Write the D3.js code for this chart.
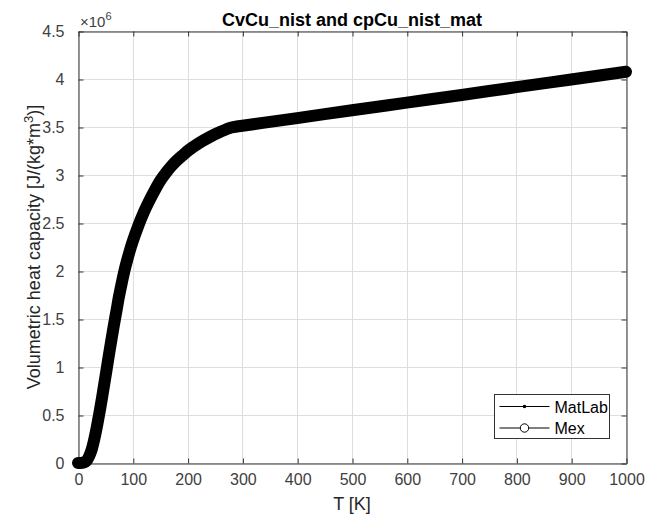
<!DOCTYPE html>
<html>
<head>
<meta charset="utf-8">
<script src="https://cdn.jsdelivr.net/npm/d3@7"></script>
<style>
    body { margin: 0; background: #fff; }
    svg { display: block; font-family: "Liberation Sans", Arial, Helvetica, sans-serif; }
</style>
</head>
<body>
<svg width="646" height="520"></svg>
<script>
// temperature points [K] and volumetric heat capacity [J/(kg*m^3)]
let temperature = [0, 5, 10, 15, 20, 25, 30, 35, 40, 45, 50, 55, 60, 65, 70, 75, 80, 85, 90, 95, 100,
    110, 120, 130, 140, 150, 160, 170, 180, 190, 200, 220, 240, 260, 280, 290, 300,
    400, 500, 600, 700, 800, 900, 1000];
let cvMatLab = [0, 500, 5000, 20000, 65000, 140000, 255000, 395000, 550000, 720000, 895000,
    1075000, 1250000, 1420000, 1580000, 1740000, 1880000, 2010000, 2120000, 2220000, 2310000,
    2470000, 2610000, 2730000, 2840000, 2940000, 3020000, 3090000, 3150000, 3200000, 3250000,
    3330000, 3395000, 3450000, 3495000, 3505000, 3513000,
    3593000, 3674000, 3754000, 3834000, 3915000, 3995000, 4075000];
// Mex result lies right on top of the MatLab one
let cvMex = [0, 500, 5000, 20000, 65000, 140000, 255000, 395000, 550000, 720000, 895000,
    1075000, 1250000, 1420000, 1580000, 1740000, 1880000, 2010000, 2120000, 2220000, 2310000,
    2470000, 2610000, 2730000, 2840000, 2940000, 3020000, 3090000, 3150000, 3200000, 3250000,
    3330000, 3395000, 3450000, 3495000, 3505000, 3513000,
    3593000, 3674000, 3754000, 3834000, 3915000, 3995000, 4075000];

let xTicks = [0, 100, 200, 300, 400, 500, 600, 700, 800, 900, 1000];
let yTicks = [0, 0.5e6, 1e6, 1.5e6, 2e6, 2.5e6, 3e6, 3.5e6, 4e6, 4.5e6];
let seriesNames = ["MatLab", "Mex"];

let svg = d3.select("svg");

let margin = {left: 78, right: 20, top: 31, bottom: 57};
let width = +svg.attr("width"),
    height = +svg.attr("height");

let x = d3.scaleLinear()
    .domain([0, 1000])
    .range([margin.left, width - margin.right]);

let y = d3.scaleLinear()
    .domain([0, 4.5e6])
    .range([height - margin.bottom, margin.top]);

let axisColor = "#333";
let labelColor = "#404040";

//grid lines
let grid = svg.append("g").attr("class", "grid");
grid.selectAll("line.gx")
    .data(xTicks).enter().append("line")
        .attr("class", "gx")
        .attr("x1", d => Math.round(x(d)) + 0.5)
        .attr("x2", d => Math.round(x(d)) + 0.5)
        .attr("y1", y(4.5e6))
        .attr("y2", y(0))
        .attr("stroke", "#dedede");
grid.selectAll("line.gy")
    .data(yTicks).enter().append("line")
        .attr("class", "gy")
        .attr("x1", x(0))
        .attr("x2", x(1000))
        .attr("y1", d => Math.round(y(d)) + 0.5)
        .attr("y2", d => Math.round(y(d)) + 0.5)
        .attr("stroke", "#dedede");

//axes with ticks pointing in, on all four sides
let fmtY = d => d3.format("~g")(d / 1e6);

let xBottom = svg.append("g")
    .attr("transform", `translate(0.5,${Math.round(y(0)) + 0.5})`)
    .call(d3.axisBottom(x).tickValues(xTicks).tickFormat(d3.format("d"))
        .tickSizeInner(-5).tickSizeOuter(0).tickPadding(10));
let xTop = svg.append("g")
    .attr("transform", `translate(0.5,${Math.round(y(4.5e6)) + 0.5})`)
    .call(d3.axisTop(x).tickValues(xTicks).tickSizeInner(-5).tickSizeOuter(0).tickFormat(""));
let yLeft = svg.append("g")
    .attr("transform", `translate(${Math.round(x(0)) + 0.5},0.5)`)
    .call(d3.axisLeft(y).tickValues(yTicks).tickFormat(fmtY).tickSizeInner(-5).tickSizeOuter(0).tickPadding(14));
let yRight = svg.append("g")
    .attr("transform", `translate(${Math.round(x(1000)) + 0.5},0.5)`)
    .call(d3.axisRight(y).tickValues(yTicks).tickSizeInner(-5).tickSizeOuter(0).tickFormat(""));

[xBottom, xTop, yLeft, yRight].forEach(g => {
    g.select(".domain").attr("stroke", axisColor);
    g.selectAll(".tick line").attr("stroke", axisColor);
    g.selectAll(".tick text")
        .attr("fill", labelColor)
        .style("font-size", "16px")
        .style("font-family", "'Liberation Sans', Arial, sans-serif");
});

//exponent above the y axis
let expo = svg.append("text")
    .attr("x", x(0) + 2)
    .attr("y", 27)
    .attr("fill", labelColor)
    .style("font-size", "15px");
expo.append("tspan").text("\u00d710");
expo.append("tspan").attr("dy", -7).style("font-size", "11px").text("6");

//title and axis labels
svg.append("text")
    .attr("x", (x(0) + x(1000)) / 2)
    .attr("y", 26)
    .attr("text-anchor", "middle")
    .attr("fill", "#000")
    .style("font-size", "18px")
    .style("font-weight", "bold")
    .text("CvCu_nist and cpCu_nist_mat");

svg.append("text")
    .attr("x", (x(0) + x(1000)) / 2)
    .attr("y", 510)
    .attr("text-anchor", "middle")
    .attr("fill", "#262626")
    .style("font-size", "18px")
    .text("T [K]");

let yLabel = svg.append("text")
    .attr("transform", `translate(40,${(y(0) + y(4.5e6)) / 2}) rotate(-90)`)
    .attr("text-anchor", "middle")
    .attr("fill", "#262626")
    .style("font-size", "18px");
yLabel.append("tspan").text("Volumetric heat capacity [J/(kg*m");
yLabel.append("tspan").attr("dy", -7).style("font-size", "13px").text("3");
yLabel.append("tspan").attr("dy", 7).text(")]");

//the two series
let rows = temperature.map((t, i) => ({t: t, matlab: cvMatLab[i], mex: cvMex[i]}));

let lineMatLab = d3.line()
    .x(d => x(d.t))
    .y(d => y(d.matlab))
    .curve(d3.curveMonotoneX);
let lineMex = d3.line()
    .x(d => x(d.t))
    .y(d => y(d.mex))
    .curve(d3.curveMonotoneX);

svg.append("path")
    .datum(rows)
    .attr("d", lineMatLab)
    .attr("fill", "none")
    .attr("stroke", "#000")
    .attr("stroke-width", 1);

// dense 'o' markers merge into one thick band
svg.append("path")
    .datum(rows)
    .attr("d", lineMex)
    .attr("fill", "none")
    .attr("stroke", "#000")
    .attr("stroke-width", 12)
    .attr("stroke-linecap", "round")
    .attr("stroke-linejoin", "round");

//legend
let legend = svg.append("g")
    .attr("class", "legend")
    .attr("transform", "translate(494.5,394.5)");
legend.append("rect")
    .attr("width", 115)
    .attr("height", 44)
    .attr("fill", "#fff")
    .attr("stroke", axisColor);

let item = legend.selectAll("g.item")
    .data(seriesNames).enter().append("g")
        .attr("class", "item")
        .attr("transform", (d, i) => `translate(0,${12 + i * 21.5})`);
item.append("line")
    .attr("x1", 5)
    .attr("x2", 55)
    .attr("stroke", "#000");
item.filter(d => d == "MatLab").append("circle")
    .attr("cx", 30)
    .attr("r", 1.8)
    .attr("fill", "#000");
item.filter(d => d == "Mex").append("circle")
    .attr("cx", 30)
    .attr("r", 4.2)
    .attr("fill", "#fff")
    .attr("stroke", "#000");
item.append("text")
    .attr("x", 60)
    .attr("y", 6)
    .attr("fill", "#000")
    .style("font-size", "16px")
    .text(d => d);
</script>
</body>
</html>
